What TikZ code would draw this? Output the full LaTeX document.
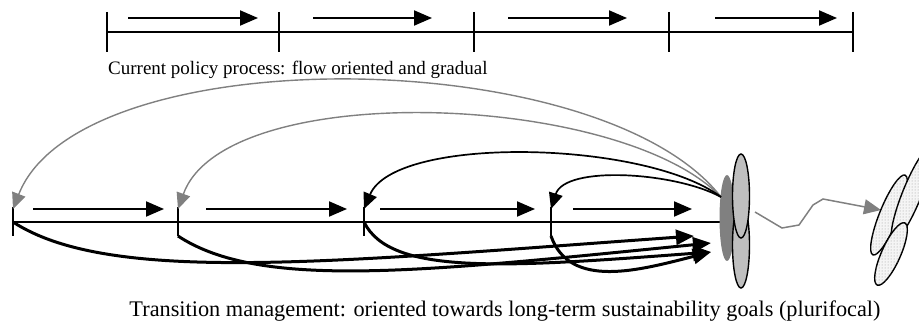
\documentclass[tikz,border=0pt]{standalone}
\usepackage{fontspec}
\setmainfont{Liberation Serif}
\usetikzlibrary{arrows.meta,patterns,shapes.geometric}
\begin{document}
\begin{tikzpicture}[x=1pt,y=-1pt,
  tline/.style={line width=2.2pt},
  tickln/.style={line width=1.2pt},
  flowarrow/.style={line width=2pt,-{Triangle[length=18pt,width=15pt]}},
  greyarc/.style={draw=gray,line width=1.4pt,-{Triangle[length=16pt,width=14pt]}},
  blackarc/.style={draw=black,line width=1.7pt,-{Triangle[length=16pt,width=14pt]}},
  thickcurve/.style={draw=black,line width=3pt,-{Triangle[length=18pt,width=15pt]}},
  lightell/.style={ellipse,draw=black,line width=1.4pt,fill=gray!50,inner sep=0pt},
  dotell/.style={ellipse,draw=black,line width=1.4pt,fill=gray!8,postaction={pattern=dots,pattern color=gray!80},inner sep=0pt},
  lbl/.style={inner sep=0pt,font=\fontsize{19}{22}\selectfont}
]
\useasboundingbox (0,0) rectangle (919,328);

% ---------- top: current policy process ----------
\foreach \n/\x in {a0/107,a1/279,a2/474,a3/669,a4/853}{
  \coordinate (\n) at (\x,32);
  \draw[tickln] (\x,12) -- (\x,52);
}
\draw[tline] (a0) -- (a4);
\coordinate (fa1) at (128,18); \coordinate (fb1) at (258,18);
\coordinate (fa2) at (313,18); \coordinate (fb2) at (432,18);
\coordinate (fa3) at (508,18); \coordinate (fb3) at (627,18);
\coordinate (fa4) at (715,18); \coordinate (fb4) at (837,18);
\foreach \i in {1,...,4}{\draw[flowarrow] (fa\i) -- (fb\i);}
\node[lbl,anchor=west] (toptext) at (108,70) {Current policy process: flow oriented and gradual};

% ---------- bottom: transition management ----------
\foreach \n/\x in {b0/13,b1/178,b2/364,b3/551}{
  \coordinate (\n) at (\x,222);
  \coordinate (\n top) at (\x,209);
  \coordinate (\n bot) at (\x,236);
  \draw[tickln] (\x,207) -- (\x,236);
}
\coordinate (bend) at (722,222);
\draw[line width=1.6pt] (b0) -- (bend);
\coordinate (ga1) at (33,209);  \coordinate (gb1) at (164,209);
\coordinate (ga2) at (206,209); \coordinate (gb2) at (347,209);
\coordinate (ga3) at (380,209); \coordinate (gb3) at (535,209);
\coordinate (ga4) at (573,209); \coordinate (gb4) at (692,209);
\foreach \i in {1,...,4}{\draw[flowarrow] (ga\i) -- (gb\i);}

% goal ellipses
\node[ellipse,fill=gray,inner sep=0pt,minimum width=15pt,minimum height=86pt] (core) at (727,218) {};
\node[lightell,minimum width=17pt,minimum height=86pt] (goalB) at (741,245) {};
\node[lightell,minimum width=17pt,minimum height=84pt] (goalA) at (741,196) {};

\coordinate (hub) at (721,197);

% feedback arcs
\draw[greyarc] (hub) .. controls (600,42) and (80,38) .. (b0top);
\draw[greyarc] (hub) .. controls (620,92) and (225,78) .. (b1top);
\draw[blackarc] (hub) .. controls (645,140) and (395,135) .. (b2top);
\draw[blackarc] (hub) .. controls (675,172) and (565,165) .. (b3top);

% forward thick curves
\coordinate (tip1) at (694,236);
\coordinate (tip2) at (711,243);
\coordinate (tip3) at (711,252);
\draw[thickcurve] (b0) .. controls (110,285) and (330,262) .. (tip1);
\draw[thickcurve] (b1bot) .. controls (260,290) and (420,272) .. (tip2);
\draw[thickcurve] (b2) .. controls (390,275) and (500,268) .. (tip3);
\draw[thickcurve] (b3bot) .. controls (570,290) and (640,270) .. (tip3);

% wavy grey arrow to future goals
\coordinate (w0) at (755,212);
\coordinate (w5) at (881,210);
\draw[gray,line width=1.5pt,-{Triangle[length=17pt,width=15pt]}]
  (w0) -- (782,228) -- (799,225) -- (813,205) -- (823,199) -- (w5);

% future goals (dotted, tilted)
\node[dotell,minimum width=19pt,minimum height=86pt,rotate=-22] (fgB) at (889,215) {};
\node[dotell,minimum width=19pt,minimum height=100pt,rotate=-22] (fgA) at (912,194) {};
\node[dotell,minimum width=19pt,minimum height=68pt,rotate=-24] (fgC) at (891,254) {};

\node[lbl,font=\fontsize{22.3}{26}\selectfont] (bottext) at (505,311) {Transition management: oriented towards long-term sustainability goals (plurifocal)};
\end{tikzpicture}
\end{document}
